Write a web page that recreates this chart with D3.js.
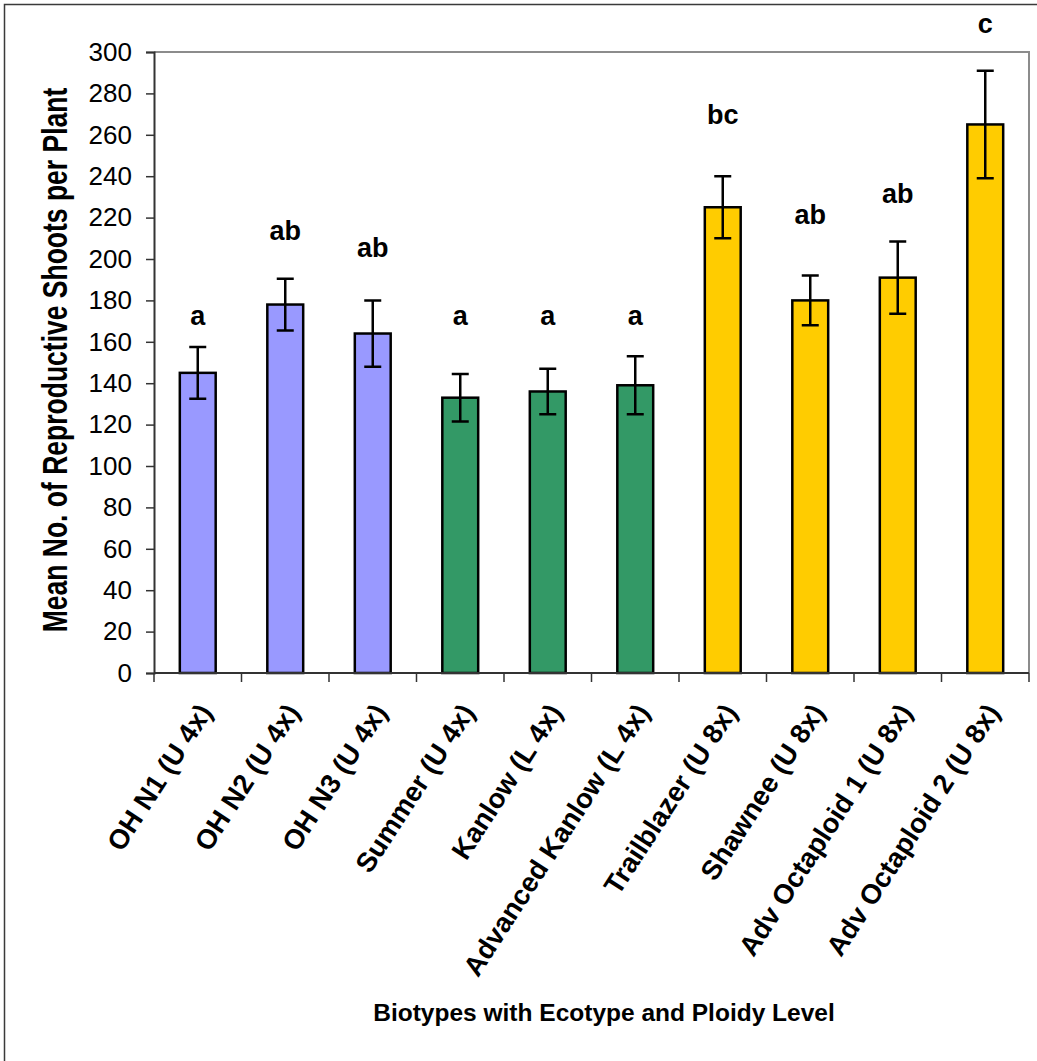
<!DOCTYPE html>
<html>
<head>
<meta charset="utf-8">
<script src="https://cdn.jsdelivr.net/npm/d3@7/dist/d3.min.js"></script>
<style>
  html, body { margin: 0; padding: 0; background: #ffffff; }
  svg { display: block; }
  text { font-family: Arial, "Liberation Sans", Helvetica, sans-serif; fill: #000; }
</style>
</head>
<body>
<svg id="chart" width="1037" height="1061"></svg>
<script>
// Biotype names (ecotype and ploidy level in parentheses)
const categories = [
  "OH N1 (U 4x)", "OH N2 (U 4x)", "OH N3 (U 4x)", "Summer (U 4x)",
  "Kanlow (L 4x)", "Advanced Kanlow (L 4x)", "Trailblazer (U 8x)",
  "Shawnee (U 8x)", "Adv Octaploid 1 (U 8x)", "Adv Octaploid 2 (U 8x)"
];
// Mean number of reproductive shoots per plant
const means = [145, 178, 164, 133, 136, 139, 225, 180, 191, 265];
// Standard errors of the means
const stdErrors = [12.5, 12.5, 16, 11.5, 11, 14, 15, 12, 17.5, 26];
// Group of each biotype (drives the bar colour)
const groups = ["ohio", "ohio", "ohio", "lowland", "lowland", "lowland",
                "octo", "octo", "octo", "octo"];
// Mean separation letters and the height (in shoots) at which they sit
const sigLetters = ["a", "ab", "ab", "a", "a", "a", "bc", "ab", "ab", "c"];
const letterHeights = [168, 209, 201, 168, 168, 168, 265, 217, 227, 309];
// Y axis tick values
const yTicks = [0, 20, 40, 60, 80, 100, 120, 140, 160, 180, 200, 220, 240, 260, 280, 300];

const groupColor = { ohio: "#9999FF", lowland: "#339966", octo: "#FFCC00" };

const svg = d3.select("#chart");
const plot = { left: 154, right: 1029, top: 52, bottom: 673 };

const x = d3.scaleBand().domain(categories).range([plot.left, plot.right]).padding(0);
const y = d3.scaleLinear().domain([0, 300]).range([plot.bottom, plot.top]);
const barW = x.bandwidth() * 0.41;

// outer chart border
svg.append("rect")
  .attr("x", 4.5).attr("y", 4.5)
  .attr("width", 1100).attr("height", 1100)
  .attr("fill", "none").attr("stroke", "#3a3a3a").attr("stroke-width", 1.5);

// plot area frame (top and right)
svg.append("path")
  .attr("d", `M${plot.left},${plot.top}H${plot.right}V${plot.bottom}`)
  .attr("fill", "none").attr("stroke", "#8c8c8c").attr("stroke-width", 2);

// bars
svg.append("g").selectAll("rect")
  .data(categories)
  .join("rect")
  .attr("x", (d) => x(d) + (x.bandwidth() - barW) / 2)
  .attr("y", (d, i) => y(means[i]))
  .attr("width", barW)
  .attr("height", (d, i) => y(0) - y(means[i]))
  .attr("fill", (d, i) => groupColor[groups[i]])
  .attr("stroke", "#000").attr("stroke-width", 2.5);

// error bars
const capW = 17;
const eb = svg.append("g").attr("stroke", "#000").attr("stroke-width", 2.5).attr("fill", "none");
categories.forEach((c, i) => {
  const cx = x(c) + x.bandwidth() / 2;
  const hi = y(means[i] + stdErrors[i]);
  const lo = y(means[i] - stdErrors[i]);
  eb.append("path")
    .attr("d", `M${cx},${hi}V${lo}M${cx - capW / 2},${hi}H${cx + capW / 2}M${cx - capW / 2},${lo}H${cx + capW / 2}`);
});

// significance letters
svg.append("g").selectAll("text")
  .data(categories)
  .join("text")
  .attr("x", (d) => x(d) + x.bandwidth() / 2)
  .attr("y", (d, i) => y(letterHeights[i]))
  .attr("text-anchor", "middle")
  .attr("font-size", 27).attr("font-weight", "bold")
  .text((d, i) => sigLetters[i]);

// y axis
const yAxis = svg.append("g")
  .attr("transform", `translate(${plot.left},0)`)
  .call(d3.axisLeft(y).tickValues(yTicks).tickSize(8).tickPadding(14));
yAxis.select(".domain").attr("stroke", "#333").attr("stroke-width", 2);
yAxis.selectAll(".tick line").attr("stroke", "#333").attr("stroke-width", 1.5);
yAxis.selectAll(".tick text")
  .attr("font-size", 26).attr("font-family", "Arial, 'Liberation Sans', sans-serif")
  .attr("fill", "#000");

// x axis line and ticks at category boundaries
const xAxis = svg.append("g");
xAxis.append("line")
  .attr("x1", plot.left).attr("x2", plot.right)
  .attr("y1", plot.bottom).attr("y2", plot.bottom)
  .attr("stroke", "#333").attr("stroke-width", 2);
const boundaries = categories.map((c) => x(c)).concat([x.range()[1]]);
xAxis.selectAll("line.tick")
  .data(boundaries)
  .join("line")
  .attr("class", "tick")
  .attr("x1", (d) => d).attr("x2", (d) => d)
  .attr("y1", plot.bottom).attr("y2", plot.bottom + 9)
  .attr("stroke", "#333").attr("stroke-width", 1.5);

// rotated category labels
xAxis.selectAll("text")
  .data(categories)
  .join("text")
  .attr("transform", (d) => `translate(${x(d) + x.bandwidth() / 2 + 15.5},${plot.bottom + 39}) rotate(-57)`)
  .attr("text-anchor", "end")
  .attr("font-size", 27.5).attr("font-weight", "bold")
  .text((d) => d);

// axis titles
svg.append("text")
  .attr("transform", "translate(55,360) rotate(-90) scale(1,1.3)")
  .attr("text-anchor", "middle")
  .attr("dominant-baseline", "central")
  .attr("font-size", 26.5).attr("font-weight", "bold")
  .text("Mean No. of Reproductive Shoots per Plant");

svg.append("text")
  .attr("x", 604).attr("y", 1021)
  .attr("text-anchor", "middle")
  .attr("font-size", 24.5).attr("font-weight", "bold")
  .text("Biotypes with Ecotype and Ploidy Level");
</script>
</body>
</html>
